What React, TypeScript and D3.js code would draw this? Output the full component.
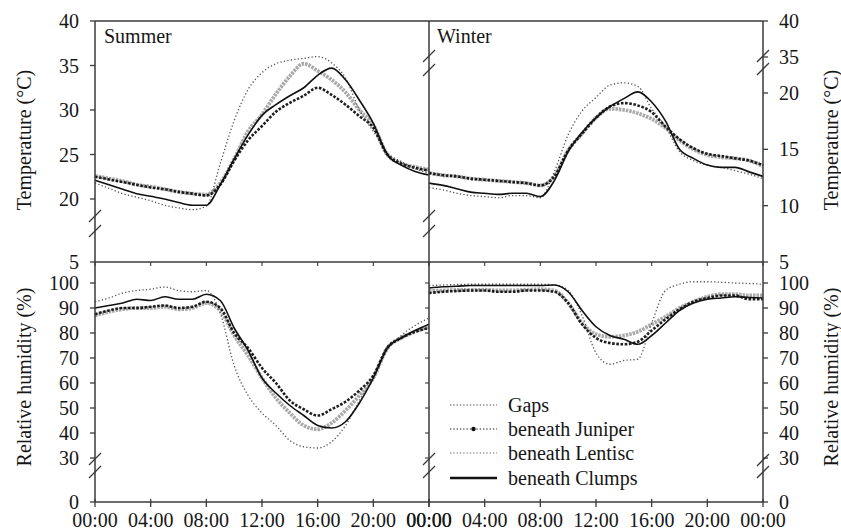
import React from "react";
import * as d3 from "d3";

const hours = [0,1,2,3,4,5,6,7,8,9,10,11,12,13,14,15,16,17,18,19,20,21,22,23,24];
const seriesNames = ["Gaps", "beneath Juniper", "beneath Lentisc", "beneath Clumps"];
const xTickHours = [0, 4, 8, 12, 16, 20, 24];
const xTickLabels = ["00:00", "04:00", "08:00", "12:00", "16:00", "20:00", "00:00"];
const summerTempTicks = [20, 25, 30, 35, 40];
const winterTempTicksLow = [10, 15, 20];
const winterTempTicksHigh = [35, 40];
const rhTicks = [30, 40, 50, 60, 70, 80, 90, 100];

// Summer temperature (°C)
const sumTGaps = [21.8,21.2,20.6,20.2,19.8,19.3,19.0,18.8,19.2,24.0,28.8,32.3,34.2,35.2,35.6,35.8,36.0,35.3,33.6,30.0,27.6,25.2,24.2,23.4,22.9];
const sumTJuniper = [22.5,22.2,21.9,21.6,21.3,21.1,20.8,20.6,20.4,21.6,24.3,26.6,28.2,29.8,30.8,31.6,32.5,31.7,30.6,29.3,28.0,25.0,24.0,23.5,23.2];
const sumTLentisc = [22.6,22.3,22.0,21.6,21.4,21.1,20.8,20.6,20.5,21.8,24.5,27.6,29.5,31.8,33.8,35.2,34.4,33.4,32.0,30.0,28.3,25.0,24.0,23.6,23.3];
const sumTClumps = [22.1,21.6,21.1,20.6,20.3,20.0,19.6,19.3,19.3,21.6,24.5,27.2,29.4,30.6,31.6,32.5,33.9,34.7,33.4,31.1,28.5,25.0,23.8,23.1,22.7];

// Winter temperature (°C)
const winTGaps = [11.6,11.4,11.1,10.9,10.8,10.7,10.9,10.9,10.7,13.0,16.3,18.4,19.6,20.7,20.9,20.6,18.6,17.0,14.8,14.0,13.6,13.4,13.1,12.8,12.4];
const winTJuniper = [12.9,12.7,12.6,12.4,12.3,12.2,12.1,12.0,11.8,12.6,14.9,16.4,17.8,18.8,19.1,18.9,18.3,17.0,15.9,15.1,14.6,14.4,14.2,14.0,13.6];
const winTLentisc = [12.9,12.7,12.6,12.4,12.3,12.2,12.1,12.0,11.8,12.6,14.9,16.4,17.8,18.6,18.5,18.2,17.7,16.9,15.8,15.0,14.5,14.3,14.2,14.0,13.5];
const winTClumps = [12.0,11.8,11.5,11.2,11.1,11.0,11.1,11.1,10.8,12.2,14.8,16.5,17.8,18.8,19.5,20.1,19.2,17.5,15.0,14.2,13.6,13.4,13.4,13.0,12.6];

// Summer relative humidity (%)
const sumRGaps = [92.5,94,96,97,97.5,98.4,97,96.5,97,88,67,55,48,43,37,34.5,34,36.5,43,53,62,73,79,83,86];
const sumRJuniper = [87.5,89,90,90,90.5,91,90,90.5,92.5,90,80,74,66,60,53,49.5,47,49.5,52.5,57,63,74,78,80.5,82];
const sumRLentisc = [87,88.5,89.5,90,90,90.5,89.5,90,92,89,79,71,62,54,48,43,41.5,44,49,55,62,74,78,80.5,82.5];
const sumRClumps = [90,91,92,93.5,93,94.5,93.5,93.5,95.5,93,82,73,62,56,51,47,43,42,44.5,52,62,74,78,81,83.5];

// Winter relative humidity (%)
const winRGaps = [99,99.2,99.4,99.5,99.5,99.5,99.5,99.5,99.5,99.3,97,87,72,67.5,69,69.5,84,97,99.5,100.5,100.5,100.3,100,99.8,99.5];
const winRJuniper = [96,96.5,96.8,97,97,96.5,96.5,97,97,96.5,92,83.5,78,76,75.5,76.5,81,85.5,89.5,92.5,94,95,95,93.5,93.5];
const winRLentisc = [96.8,97,97.2,97.2,97.3,97,97,97.3,97.5,97,92,84,79.5,78.5,79,80.5,83.5,86.5,90,92.5,94.5,95.5,95.5,95,95];
const winRClumps = [98,98.5,98.7,99,99,99,99,99,99,99.2,96.5,89,82.5,79,77.5,75.5,79,84,89,92,93.5,94,94.5,94.2,94];

const FONT = "'Liberation Serif', 'Times New Roman', serif";
const AX = "#3a3a3a";
const TXT = "#161616";

const styles: Record<string, any> = {
  "Gaps": { stroke: "#444", strokeWidth: 1.3, strokeDasharray: "1.3,2.2", opacity: 0.9 },
  "beneath Juniper": { stroke: "#111", strokeWidth: 2.6, strokeDasharray: "2.6,1.6", opacity: 0.95 },
  "beneath Lentisc": { stroke: "#9a9a9a", strokeWidth: 3.8, strokeDasharray: "2.5,1", opacity: 0.85 },
  "beneath Clumps": { stroke: "#111", strokeWidth: 1.6 },
};

export default function App() {
  const W = 841, H = 532;
  const xL = 95, xM = 429, xR = 763;
  const yTop = 21, yMid = 262, yBot = 502;

  const xS = d3.scaleLinear().domain([0, 24]).range([xL, xM]);
  const xW = d3.scaleLinear().domain([0, 24]).range([xM, xR]);
  const ySumT = d3.scaleLinear().domain([20, 40]).range([199, 21]);
  const yWinT = d3.scaleLinear().domain([5, 20]).range([262, 93]);
  const yWinTHigh = d3.scaleLinear().domain([35, 40]).range([57, 21]);
  const yRH = d3.scaleLinear().domain([30, 100]).range([458, 283]);

  const mkLine = (x: any, y: any) =>
    d3.line<number>().x((_, i) => x(hours[i])).y((v) => y(v)).curve(d3.curveMonotoneX);

  const panels = [
    { x: xS, y: ySumT, data: [sumTLentisc, sumTJuniper, sumTGaps, sumTClumps] },
    { x: xW, y: yWinT, data: [winTLentisc, winTJuniper, winTGaps, winTClumps] },
    { x: xS, y: yRH, data: [sumRLentisc, sumRJuniper, sumRGaps, sumRClumps] },
    { x: xW, y: yRH, data: [winRLentisc, winRJuniper, winRGaps, winRClumps] },
  ];
  const order = ["beneath Lentisc", "beneath Juniper", "Gaps", "beneath Clumps"];

  const brk = (cx: number, cy: number, key: string) => (
    <g key={key}>
      <line x1={cx - 6} y1={cy + 6} x2={cx + 6} y2={cy - 6} stroke={AX} strokeWidth={1.3} />
    </g>
  );

  const fs = 20;
  const leftTick = (y: number, label: string, key: string) => (
    <g key={key}>
      <line x1={xL - 5} x2={xL} y1={y} y2={y} stroke={AX} strokeWidth={1.3} />
      <text x={79} y={y} dy="0.35em" textAnchor="end" fontSize={fs} fontFamily={FONT} fill={TXT}>{label}</text>
    </g>
  );
  const rightTick = (y: number, label: string, key: string) => (
    <g key={key}>
      <line x1={xR} x2={xR + 5} y1={y} y2={y} stroke={AX} strokeWidth={1.3} />
      <text x={779} y={y} dy="0.35em" textAnchor="start" fontSize={fs} fontFamily={FONT} fill={TXT}>{label}</text>
    </g>
  );

  const legendY = [405, 429, 453, 478];

  return (
    <svg width={W} height={H} style={{ position: "absolute", left: 0, top: 0, background: "#fff" }}>
      {/* data */}
      {panels.map((p, pi) => {
        const line = mkLine(p.x, p.y);
        return (
          <g key={"p" + pi}>
            {p.data.map((d, si) => {
              const st = styles[order[si]];
              return (
                <path key={si} d={line(d) as string} fill="none" stroke={st.stroke} strokeWidth={st.strokeWidth}
                  strokeDasharray={st.strokeDasharray} opacity={st.opacity ?? 1} strokeLinejoin="round" />
              );
            })}
          </g>
        );
      })}

      {/* frame */}
      <line x1={xL} x2={xR} y1={yTop} y2={yTop} stroke={AX} strokeWidth={1.5} />
      <line x1={xL} x2={xR} y1={yMid} y2={yMid} stroke={AX} strokeWidth={1.5} />
      <line x1={xL} x2={xR} y1={yBot} y2={yBot} stroke={AX} strokeWidth={1.5} />
      <line x1={xL} x2={xL} y1={yTop} y2={yBot} stroke={AX} strokeWidth={1.5} />
      <line x1={xM} x2={xM} y1={yTop} y2={yBot} stroke={AX} strokeWidth={1.5} />
      <line x1={xR} x2={xR} y1={yTop} y2={yBot} stroke={AX} strokeWidth={1.5} />

      {/* breaks */}
      {[216, 231, 459, 472].map((y, i) => brk(xL, y, "bl" + i))}
      {[56, 70, 216, 231, 459, 472].map((y, i) => brk(xM, y, "bm" + i))}
      {[56, 69, 460, 472].map((y, i) => brk(xR, y, "br" + i))}

      {/* x ticks */}
      {xTickHours.map((h, i) => (
        <g key={"xt" + i}>
          <line x1={xS(h)} x2={xS(h)} y1={yBot - 3} y2={yBot + 5} stroke={AX} strokeWidth={1.3} />
          <line x1={xW(h)} x2={xW(h)} y1={yBot - 3} y2={yBot + 5} stroke={AX} strokeWidth={1.3} />
          <line x1={xS(h)} x2={xS(h)} y1={yMid} y2={yMid + 4} stroke={AX} strokeWidth={1.1} />
          <line x1={xW(h)} x2={xW(h)} y1={yMid} y2={yMid + 4} stroke={AX} strokeWidth={1.1} />
          <text x={xS(h)} y={527} textAnchor="middle" fontSize={fs} fontFamily={FONT} fill={TXT}>{xTickLabels[i]}</text>
          <text x={xW(h)} y={527} textAnchor="middle" fontSize={fs} fontFamily={FONT} fill={TXT}>{xTickLabels[i]}</text>
        </g>
      ))}

      {/* left y axis */}
      {summerTempTicks.map((t) => leftTick(ySumT(t), String(t), "lt" + t))}
      {leftTick(yMid, "5", "l5")}
      {rhTicks.map((t) => leftTick(yRH(t), String(t), "lr" + t))}
      {leftTick(yBot, "0", "l0")}

      {/* right y axis */}
      {winterTempTicksHigh.map((t) => rightTick(yWinTHigh(t), String(t), "rth" + t))}
      {winterTempTicksLow.map((t) => rightTick(yWinT(t), String(t), "rtl" + t))}
      {rightTick(yMid, "5", "r5")}
      {rhTicks.map((t) => rightTick(yRH(t), String(t), "rr" + t))}
      {rightTick(yBot, "0", "r0")}

      {/* middle axis ticks for winter RH */}
      {rhTicks.map((t) => (
        <line key={"mr" + t} x1={xM - 4} x2={xM} y1={yRH(t)} y2={yRH(t)} stroke={AX} strokeWidth={1.1} />
      ))}

      {/* axis titles */}
      <text transform="translate(31,140) rotate(-90)" textAnchor="middle" fontSize={fs} fontFamily={FONT} fill={TXT}>Temperature (°C)</text>
      <text transform="translate(31,377) rotate(-90)" textAnchor="middle" fontSize={fs} fontFamily={FONT} fill={TXT}>Relative humidity (%)</text>
      <text transform="translate(838,140) rotate(-90)" textAnchor="middle" fontSize={fs} fontFamily={FONT} fill={TXT}>Temperature (°C)</text>
      <text transform="translate(838,377) rotate(-90)" textAnchor="middle" fontSize={fs} fontFamily={FONT} fill={TXT}>Relative humidity (%)</text>

      {/* panel labels */}
      <text x={104} y={43} fontSize={fs} fontFamily={FONT} fill={TXT}>Summer</text>
      <text x={437} y={43} fontSize={fs} fontFamily={FONT} fill={TXT}>Winter</text>

      {/* legend */}
      {seriesNames.map((name, i) => {
        const st = styles[name];
        const y = legendY[i];
        const isLent = name === "beneath Lentisc";
        return (
          <g key={"lg" + i}>
            <line x1={450} x2={497} y1={y} y2={y} stroke={isLent ? "#999" : st.stroke}
              strokeWidth={name === "beneath Clumps" ? 2.4 : isLent ? 1.6 : 1.2}
              strokeDasharray={name === "beneath Clumps" ? undefined : "1.3,2"} />
            {name === "beneath Juniper" && <circle cx={473.5} cy={y} r={2.2} fill="#111" />}
            <text x={508} y={y} dy="0.33em" fontSize={fs} fontFamily={FONT} fill={TXT}>{name}</text>
          </g>
        );
      })}
    </svg>
  );
}
